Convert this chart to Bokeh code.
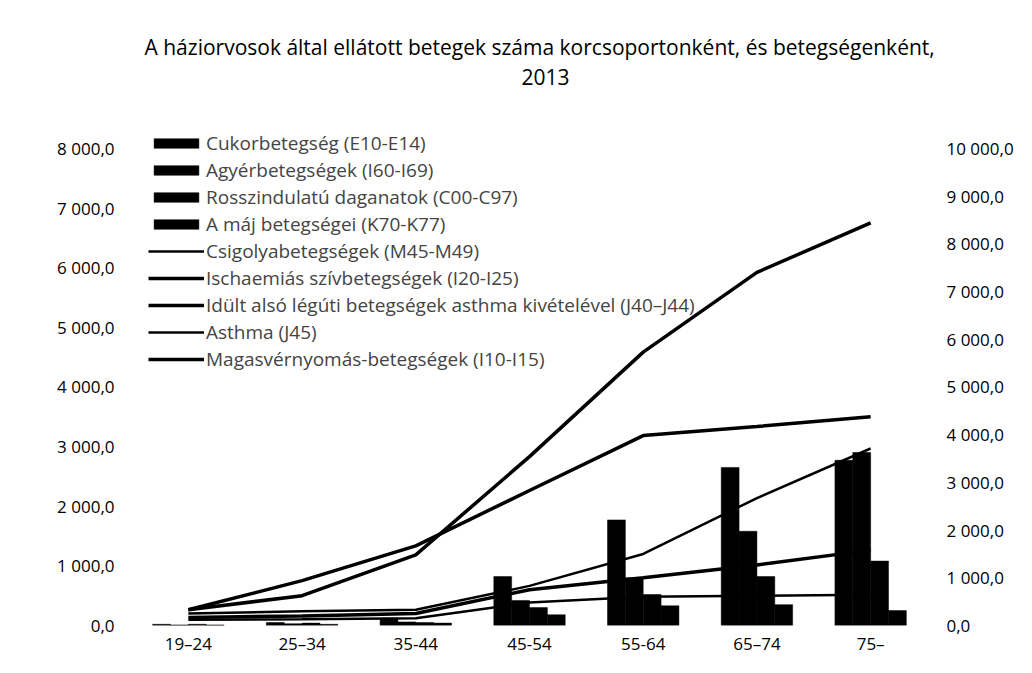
from bokeh.plotting import figure
from bokeh.models import (Range1d, LinearAxis, FixedTicker, Title, Legend, LegendItem,
                          ColumnDataSource, CustomJSTickFormatter)
from bokeh.transform import dodge
from bokeh.embed import file_html
from bokeh.resources import INLINE

# ---------------- data ----------------
categories = ["19–24", "25–34", "35-44", "45-54", "55-64", "65–74", "75–"]

bar_names = ["Cukorbetegség (E10-E14)", "Agyérbetegségek (I60-I69)",
             "Rosszindulatú daganatok (C00-C97)", "A máj betegségei (K70-K77)"]
cukor = [20, 50, 120, 820, 1770, 2650, 2770]
agyer = [10, 30, 60, 420, 800, 1580, 2900]
rossz = [20, 40, 50, 300, 520, 820, 1080]
maj = [10, 20, 40, 180, 330, 350, 250]

line_names = ["Csigolyabetegségek (M45-M49)", "Ischaemiás szívbetegségek (I20-I25)",
              "Idült alsó légúti betegségek asthma kivételével (J40–J44)",
              "Asthma (J45)", "Magasvérnyomás-betegségek (I10-I15)"]
csigolya = [250, 300, 330, 830, 1500, 2670, 3710]
ischaemia = [330, 940, 1670, 2830, 3980, 4170, 4375]
idult = [170, 200, 250, 750, 1000, 1270, 1580]
asthma = [120, 130, 150, 480, 600, 625, 645]
magas = [330, 625, 1480, 3540, 5730, 7400, 8440]

title_line1 = "A háziorvosok által ellátott betegek száma korcsoportonként, és betegségenként,"
title_line2 = "2013"

left_ticks = list(range(0, 8001, 1000))
right_ticks = list(range(0, 10001, 1000))

# ---------------- figure ----------------
FONT = "Open Sans"
src = ColumnDataSource(dict(cat=categories, cukor=cukor, agyer=agyer, rossz=rossz, maj=maj,
                            csigolya=csigolya, ischaemia=ischaemia, idult=idult,
                            asthma=asthma, magas=magas))

# the frame reaches a little above the last tick so the legend fits inside it
LEFT_MAX = 8400
RIGHT_MAX = LEFT_MAX * 10000 / 8000

p = figure(x_range=categories, y_range=Range1d(0, LEFT_MAX),
           frame_width=796, frame_height=501,
           output_backend="svg", toolbar_location=None, title=None,
           min_border_left=131, min_border_right=10, min_border_top=124, min_border_bottom=10)
p.extra_y_ranges = {"right": Range1d(0, RIGHT_MAX)}
p.outline_line_color = None
p.xgrid.visible = False
p.ygrid.visible = False
p.background_fill_color = "white"
p.border_fill_color = "white"

fmt = CustomJSTickFormatter(code="""
const parts = tick.toFixed(1).split('.');
const ip = parts[0].replace(/\\B(?=(\\d{3})+(?!\\d))/g, ' ');
return ip + ',' + parts[1];
""")

bw = 0.157
offs = [-1.5 * bw, -0.5 * bw, 0.5 * bw, 1.5 * bw]
bar_keys = ["cukor", "agyer", "rossz", "maj"]
bar_renderers = []
for key, off in zip(bar_keys, offs):
    r = p.vbar(x=dodge("cat", off, range=p.x_range), top=key, width=bw, bottom=0,
               source=src, fill_color="black", line_color="black", line_width=0.5)
    bar_renderers.append(r)

line_keys = ["csigolya", "ischaemia", "idult", "asthma", "magas"]
line_widths = [2.5, 3.5, 3.5, 2.5, 3.5]
line_renderers = []
for key, w in zip(line_keys, line_widths):
    r = p.line(x="cat", y=key, source=src, y_range_name="right",
               line_color="black", line_width=w)
    line_renderers.append(r)

# axes
p.yaxis[0].ticker = FixedTicker(ticks=left_ticks)
p.yaxis[0].formatter = fmt
p.yaxis[0].major_label_standoff = 17

ra = LinearAxis(y_range_name="right", ticker=FixedTicker(ticks=right_ticks), formatter=fmt)
ra.major_label_standoff = 19
p.add_layout(ra, "right")

for ax in p.yaxis + p.xaxis:
    ax.axis_line_color = None
    ax.major_tick_line_color = None
    ax.minor_tick_line_color = None
    ax.major_tick_out = 0
    ax.major_tick_in = 0
    ax.major_label_text_font = FONT
    ax.major_label_text_font_size = "17px"
    ax.major_label_text_color = "black"
p.xaxis.major_label_standoff = 6

# legend
items = [LegendItem(label=n, renderers=[r]) for n, r in zip(bar_names, bar_renderers)]
items += [LegendItem(label=n, renderers=[r]) for n, r in zip(line_names, line_renderers)]
legend = Legend(items=items, location=(17, 253), padding=0, margin=0, spacing=1,
                glyph_width=56, glyph_height=12, label_height=20, label_standoff=2,
                label_text_font=FONT, label_text_font_size="19px",
                background_fill_alpha=0, border_line_color=None)
p.add_layout(legend)

# titles (a blank spacer title keeps them away from the frame)
p.add_layout(Title(text=" ", align="center", text_font=FONT, text_font_size="21px",
                   standoff=7), "above")
p.add_layout(Title(text=title_line2, align="left", offset=390, text_font=FONT,
                   text_font_size="21px", text_font_style="normal", text_color="black",
                   standoff=6), "above")
p.add_layout(Title(text=title_line1, align="left", offset=13, text_font=FONT,
                   text_font_size="21px", text_font_style="normal", text_color="black",
                   standoff=5), "above")

open("out.html", "w").write(file_html(p, INLINE))
